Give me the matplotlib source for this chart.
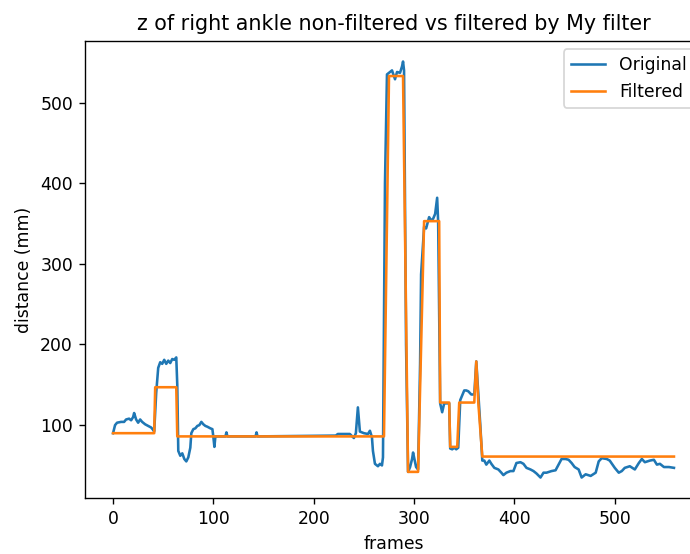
import matplotlib
matplotlib.use("Agg")
import matplotlib.pyplot as plt
import numpy as np

# original signal at (frame, mm) points
orig_frames = [0, 2, 4, 8, 11, 13, 16, 18, 20, 21, 23, 25, 27, 29, 32, 35, 38, 40, 41,
               43, 45, 47, 49, 51, 53, 55, 57, 59, 61, 63, 64, 65, 67, 69, 71, 73, 75,
               77, 78, 80, 82, 84, 86, 88, 90, 92, 94, 97, 99, 100, 101, 102, 112, 113,
               114, 142, 143, 144, 222, 224, 230, 236, 240, 242, 244, 246, 250, 254,
               256, 258, 259, 261, 264, 266, 268, 269, 271, 273, 275, 278, 281, 283,
               286, 288, 289, 290, 292, 294, 296, 298, 299, 300, 302, 304, 306, 307,
               310, 312, 315, 317, 319, 321, 323, 324, 326, 328, 330, 333, 335, 336,
               338, 340, 342, 344, 346, 348, 350, 352, 354, 357, 360, 362, 364, 366,
               368, 370, 372, 375, 377, 380, 384, 387, 389, 392, 396, 399, 402, 406,
               409, 412, 416, 419, 422, 426, 429, 432, 437, 441, 444, 447, 451, 454,
               457, 460, 464, 467, 471, 476, 481, 484, 487, 492, 495, 500, 504, 507,
               510, 515, 520, 524, 527, 530, 535, 539, 542, 545, 549, 554, 559]
orig_values = [90, 100, 103, 104, 104, 107, 108, 106, 110, 115, 107, 103, 107, 104, 101,
               99, 97, 94, 92, 140, 171, 178, 176, 181, 176, 180, 177, 182, 181, 184,
               150, 68, 62, 65, 58, 55, 60, 72, 90, 95, 96, 99, 100, 104, 101, 99, 98,
               96, 95, 85, 73, 86, 86, 91, 86, 86, 91, 86, 87, 89, 89, 89, 84, 90, 122,
               92, 90, 89, 93, 85, 68, 52, 49, 52, 50, 60, 400, 535, 537, 540, 529, 538,
               537, 545, 551, 540, 200, 42, 48, 58, 66, 60, 48, 45, 176, 287, 346, 344,
               358, 354, 356, 362, 382, 352, 127, 116, 127, 127, 127, 71, 70, 72, 70,
               72, 131, 137, 143, 143, 142, 138, 138, 179, 140, 100, 56, 56, 51, 56, 52,
               47, 45, 41, 38, 41, 43, 43, 53, 54, 52, 47, 45, 43, 40, 35, 41, 41, 43,
               44, 51, 58, 58, 57, 53, 48, 45, 35, 39, 37, 41, 55, 59, 58, 56, 47, 41,
               43, 47, 49, 45, 53, 58, 54, 56, 57, 51, 52, 48, 48, 47]

# filtered signal (step levels)
filt_frames = [0, 41, 42, 63, 64, 270, 275, 289, 294, 304, 310, 325, 326, 335, 336,
               343, 345, 360, 362, 364, 368, 559]
filt_values = [90, 90, 147, 147, 86, 86, 533, 533, 42, 42, 353, 353, 128, 128, 73,
               73, 128, 128, 179, 128, 61, 61]

fig = plt.figure(figsize=(690 / 124, 554 / 124), dpi=124)
ax = fig.add_axes([0.1232, 0.1005, 0.8942, 0.826])

ax.plot(orig_frames, orig_values, label="Original")
ax.plot(filt_frames, filt_values, label="Filtered")

ax.set_title("z of right ankle non-filtered vs filtered by My filter")
ax.set_xlabel("frames")
ax.set_ylabel("distance (mm)")
ax.legend(loc="upper right")

fig.savefig("out.png", dpi=124)
